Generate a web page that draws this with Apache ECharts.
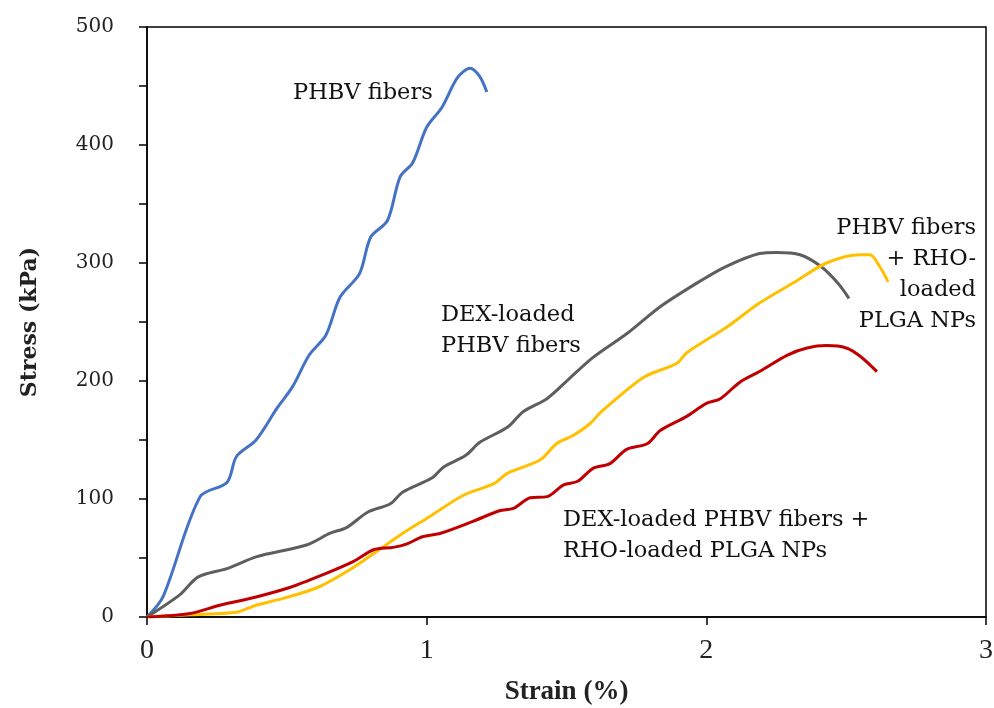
<!DOCTYPE html>
<html>
<head>
<meta charset="utf-8">
<script src="https://cdn.jsdelivr.net/npm/echarts@6/dist/echarts.min.js"></script>
<style>
  html, body { margin: 0; padding: 0; background: #fff; }
  #chart { width: 994px; height: 708px; }
</style>
</head>
<body>
<div id="chart"></div>
<script>
// PHBV fibers
const phbvStrain = [0, 0.057, 0.19, 0.286, 0.32, 0.39, 0.465, 0.52, 0.58, 0.64, 0.69, 0.76, 0.80, 0.86, 0.905, 0.95, 1.0, 1.055, 1.11, 1.155, 1.19, 1.215]
const phbvStress = [0, 17, 102, 114, 136, 150, 177, 195, 222, 239, 271, 291, 322, 336, 373, 385, 415, 432, 457, 465, 458, 445]
// DEX-loaded PHBV fibers
const dexStrain = [0, 0.118, 0.183, 0.286, 0.39, 0.57, 0.655, 0.715, 0.79, 0.87, 0.915, 1.02, 1.06, 1.14, 1.19, 1.29, 1.345, 1.43, 1.51, 1.595, 1.715, 1.835, 1.98, 2.07, 2.19, 2.25, 2.335, 2.41, 2.47, 2.51]
const dexStress = [0, 19, 34, 41, 51, 61, 71, 76, 89, 96, 106, 118, 127, 137, 148, 161, 174, 185, 202, 220, 240, 263, 285, 297, 308, 309, 307, 297, 283, 270]
// PHBV fibers + RHO-loaded PLGA NPs
const rhoStrain = [0, 0.154, 0.32, 0.39, 0.49, 0.61, 0.725, 0.83, 0.915, 1.01, 1.13, 1.24, 1.29, 1.405, 1.465, 1.525, 1.585, 1.62, 1.775, 1.895, 1.93, 2.075, 2.19, 2.31, 2.43, 2.55, 2.585, 2.62, 2.65]
const rhoStress = [0, 2, 4, 10, 16, 25, 40, 57, 71, 85, 103, 113, 122, 133, 147, 154, 164, 173, 203, 215, 224, 246, 266, 283, 300, 307, 307, 297, 284]
// DEX-loaded PHBV fibers + RHO-loaded PLGA NPs
const bothStrain = [0, 0.154, 0.26, 0.39, 0.51, 0.63, 0.737, 0.81, 0.88, 0.93, 0.985, 1.05, 1.165, 1.26, 1.31, 1.37, 1.43, 1.49, 1.54, 1.595, 1.655, 1.715, 1.79, 1.835, 1.93, 2.0, 2.05, 2.12, 2.19, 2.29, 2.36, 2.43, 2.50, 2.55, 2.61]
const bothStress = [0, 3, 10, 17, 25, 36, 47, 57, 59, 62, 68, 71, 81, 90, 92, 101, 102, 112, 115, 126, 130, 142, 147, 158, 170, 181, 185, 199, 208, 222, 228, 230, 228, 221, 208]

const xTicks = [0, 1, 2, 3]
const yTicks = [0, 100, 200, 300, 400, 500]

function pairs (xs, ys) {
  return xs.map((x, i) => [x, ys[i]])
}

const chart = echarts.init(document.getElementById('chart'))
const serif = 'DejaVu Serif'

function curve (name, color, xs, ys) {
  return {
    name: name,
    type: 'line',
    data: pairs(xs, ys),
    smooth: 0.3,
    showSymbol: false,
    symbol: 'none',
    lineStyle: { color: color, width: 3 },
    itemStyle: { color: color }
  }
}

// annotation text, x/y is the anchor of the first line
function note (x, y, text, align) {
  return {
    type: 'text',
    x: x,
    y: y,
    style: {
      text: text,
      fill: '#111',
      font: '22.5px "DejaVu Serif"',
      align: align || 'left',
      verticalAlign: 'top',
      lineHeight: 31
    }
  }
}

const option = {
  animation: false,
  grid: {
    left: 147,
    right: 8,
    top: 27,
    bottom: 91,
    outerBoundsMode: 'none',
    show: true,
    borderColor: '#000',
    borderWidth: 1.5
  },
  xAxis: {
    type: 'value',
    min: 0,
    max: 3,
    interval: 1,
    name: 'Strain (%)',
    nameLocation: 'middle',
    nameGap: 62,
    nameTextStyle: { fontFamily: 'Liberation Serif', fontWeight: 'bold', fontSize: 27, color: '#222' },
    axisLine: { lineStyle: { color: '#000', width: 1.5 } },
    axisTick: { show: true, length: 8, lineStyle: { color: '#000', width: 1.5 } },
    axisLabel: {
      margin: 20,
      fontFamily: 'Liberation Serif',
      fontSize: 28,
      color: '#222',
      formatter: v => xTicks.includes(v) ? String(v) : ''
    },
    splitLine: { show: false }
  },
  yAxis: {
    type: 'value',
    min: 0,
    max: 500,
    interval: 50,
    name: 'Stress (kPa)',
    nameLocation: 'middle',
    nameGap: 106,
    nameTextStyle: { fontFamily: serif, fontWeight: 'bold', fontSize: 22, color: '#222' },
    axisLine: { show: true, lineStyle: { color: '#000', width: 1.5 } },
    axisTick: { show: true, length: 8, lineStyle: { color: '#000', width: 1.5 } },
    axisLabel: {
      margin: 33,
      fontFamily: serif,
      fontSize: 20,
      color: '#222',
      formatter: v => yTicks.includes(v) ? String(v) : ''
    },
    splitLine: { show: false }
  },
  series: [
    curve('PHBV fibers', '#4472C4', phbvStrain, phbvStress),
    curve('DEX-loaded PHBV fibers', '#5E5E5E', dexStrain, dexStress),
    curve('PHBV fibers + RHO-loaded PLGA NPs', '#FFC000', rhoStrain, rhoStress),
    curve('DEX-loaded PHBV fibers + RHO-loaded PLGA NPs', '#C00000', bothStrain, bothStress)
  ],
  graphic: [
    note(293, 78, 'PHBV fibers'),
    note(441, 300, 'DEX-loaded\nPHBV fibers'),
    note(976, 213, 'PHBV fibers\n+ RHO-\nloaded\nPLGA NPs', 'right'),
    note(563, 505, 'DEX-loaded PHBV fibers +\nRHO-loaded PLGA NPs')
  ]
}

chart.setOption(option)
</script>
</body>
</html>
